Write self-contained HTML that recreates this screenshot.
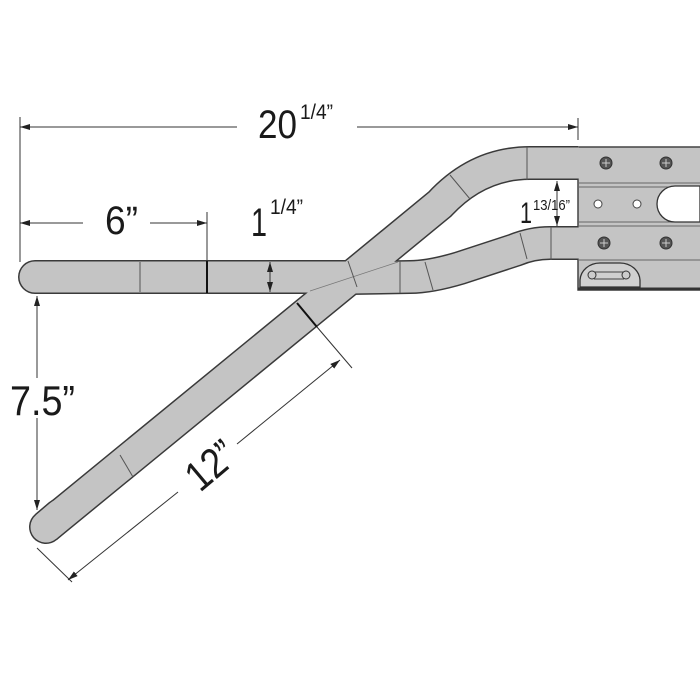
<!DOCTYPE html>
<html><head><style>html,body{margin:0;padding:0;background:#fff}svg{display:block}text{font-family:"Liberation Sans Narrow","Liberation Sans",sans-serif;fill:#1a1a1a}</style></head><body>
<svg width="700" height="700" viewBox="0 0 700 700" xmlns="http://www.w3.org/2000/svg">
<defs>
<marker id="a" viewBox="0 0 10 6" refX="10" refY="3" markerWidth="10" markerHeight="6" orient="auto-start-reverse" markerUnits="userSpaceOnUse"><path d="M0,0L10,3L0,6z" fill="#222"/></marker>
</defs>
<!-- frame -->
<rect x="578" y="147" width="130" height="143" fill="#c4c4c4" stroke="#444" stroke-width="1.5"/>
<g stroke="#666" stroke-width="1">
<line x1="578" y1="183" x2="700" y2="183"/><line x1="578" y1="187" x2="700" y2="187"/>
<line x1="578" y1="222" x2="700" y2="222"/><line x1="578" y1="226" x2="700" y2="226"/>
<line x1="578" y1="260" x2="700" y2="260"/>
</g>
<line x1="578" y1="289" x2="700" y2="289" stroke="#333" stroke-width="3"/>
<path d="M700,186 L675,186 A18,18 0 0 0 675,222 L700,222Z" fill="#fff" stroke="#333" stroke-width="1.3"/>
<circle cx="598" cy="204" r="4" fill="#fff" stroke="#444"/><circle cx="637" cy="204" r="4" fill="#fff" stroke="#444"/>
<g fill="#555" stroke="#333"><circle cx="606" cy="163" r="6"/><circle cx="666" cy="163" r="6"/><circle cx="604" cy="243" r="6"/><circle cx="666" cy="243" r="6"/></g>
<g stroke="#ccc" stroke-width="1"><path d="M602,163h8M606,159v8M662,163h8M666,159v8M600,243h8M604,239v8M662,243h8M666,239v8"/></g>
<path d="M580,287 L580,280 A20,18 0 0 1 600,263 L620,263 A20,18 0 0 1 640,280 L640,287Z" fill="#d0d0d0" stroke="#333" stroke-width="1.3"/>
<path d="M594,272h30M594,279h30" stroke="#444"/><circle cx="592" cy="275" r="4" fill="#ccc" stroke="#333"/><circle cx="626" cy="275" r="4" fill="#ccc" stroke="#333"/>
<!-- bars outline -->
<g fill="none" stroke="#3a3a3a" stroke-width="34" stroke-linecap="round" stroke-linejoin="round">
<path d="M35,277 L350,277"/>
<path d="M46,527 L350,278 L440,204 Q478,163 530,163 L578,163" stroke-linecap="butt"/>
<path d="M350,278 L410,277 Q430,277 460,268 L515,250 Q532,243 550,243 L578,243" stroke-linecap="butt"/>
<path d="M46,527 L60,515"/>
</g>
<g fill="none" stroke="#c4c4c4" stroke-width="31" stroke-linecap="round" stroke-linejoin="round">
<path d="M35,277 L352,277"/>
<path d="M46,527 L350,278 L440,204 Q478,163 530,163 L579,163" stroke-linecap="butt"/>
<path d="M350,278 L410,277 Q430,277 460,268 L515,250 Q532,243 550,243 L579,243" stroke-linecap="butt"/>
<path d="M46,527 L60,515"/>
</g>
<line x1="310" y1="291" x2="398" y2="262" stroke="#777" stroke-width="0.7"/>
<!-- seams -->
<g stroke="#555" stroke-width="1">
<line x1="140" y1="262" x2="140" y2="292"/>
<line x1="120" y1="455" x2="133" y2="477"/>
<line x1="348" y1="261" x2="357" y2="287"/>
<line x1="450" y1="175" x2="470" y2="199"/>
<line x1="527" y1="147" x2="527" y2="180"/>
<line x1="400" y1="261" x2="400" y2="293"/>
<line x1="425" y1="262" x2="433" y2="290"/>
<line x1="520" y1="233" x2="527" y2="259"/>
<line x1="551" y1="227" x2="551" y2="260"/>
</g>
<g stroke="#111" stroke-width="2"><line x1="207" y1="261" x2="207" y2="293"/><line x1="297" y1="303" x2="317" y2="327"/></g>
<!-- dimensions -->
<g stroke="#333" stroke-width="1" fill="none">
<line x1="20" y1="117" x2="20" y2="262"/>
<line x1="578" y1="118" x2="578" y2="140"/>
<line x1="20" y1="127" x2="237" y2="127" marker-start="url(#a)"/>
<line x1="357" y1="127" x2="578" y2="127" marker-end="url(#a)"/>
<line x1="207" y1="212" x2="207" y2="261"/>
<line x1="20" y1="223" x2="83" y2="223" marker-start="url(#a)"/>
<line x1="150" y1="223" x2="207" y2="223" marker-end="url(#a)"/>
<line x1="270" y1="262" x2="270" y2="292" marker-start="url(#a)" marker-end="url(#a)"/>
<line x1="557" y1="181" x2="557" y2="226" marker-start="url(#a)" marker-end="url(#a)"/>
<line x1="37" y1="296" x2="37" y2="378" marker-start="url(#a)"/>
<line x1="37" y1="418" x2="37" y2="510" marker-end="url(#a)"/>
<line x1="317" y1="327" x2="352" y2="368"/>
<line x1="37" y1="548" x2="72" y2="582"/>
<line x1="340" y1="360" x2="237" y2="444" marker-start="url(#a)"/>
<line x1="178" y1="492" x2="68" y2="580" marker-end="url(#a)"/>
</g>
<text x="258" y="138" font-size="40" textLength="39" lengthAdjust="spacingAndGlyphs">20</text><text x="300" y="119" font-size="21" textLength="33" lengthAdjust="spacingAndGlyphs">1/4”</text>
<text x="105" y="234" font-size="40" textLength="33" lengthAdjust="spacingAndGlyphs">6”</text>
<text x="251" y="236" font-size="40" textLength="16" lengthAdjust="spacingAndGlyphs">1</text><text x="270" y="214" font-size="21" textLength="33" lengthAdjust="spacingAndGlyphs">1/4”</text>
<text x="520" y="223" font-size="30" textLength="12" lengthAdjust="spacingAndGlyphs">1</text><text x="533" y="210" font-size="15" textLength="37" lengthAdjust="spacingAndGlyphs">13/16”</text>
<text x="10" y="415" font-size="42" textLength="65" lengthAdjust="spacingAndGlyphs">7.5”</text>
<text x="0" y="0" font-size="42" textLength="52" lengthAdjust="spacingAndGlyphs" transform="translate(200,493) rotate(-40)">12”</text>
</svg>
</body></html>
